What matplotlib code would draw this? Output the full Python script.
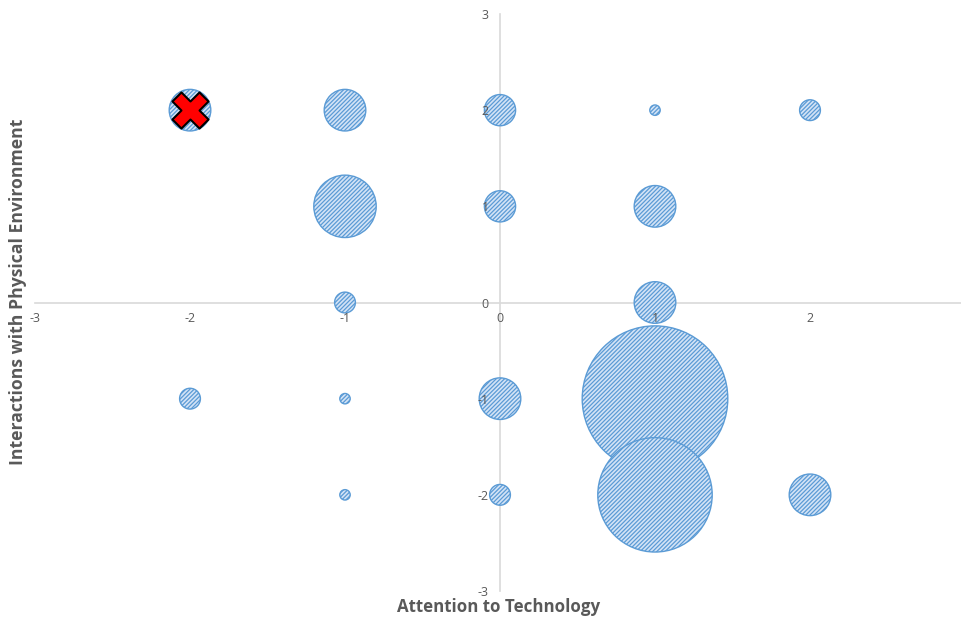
import numpy as np
import matplotlib
matplotlib.use("Agg")
import matplotlib.pyplot as plt

# response counts per (technology, environment) cell
attention = [-2, -1, 0, 1, 2, -1, 0, 1, -1, 1, -2, -1, 0, 1, -1, 0, 1, 2]
interaction = [2, 2, 2, 2, 2, 1, 1, 1, 0, 0, -1, -1, -1, -1, -2, -2, -2, -2]
counts = [4, 4, 3, 1, 2, 6, 3, 4, 2, 4, 2, 1, 4, 14, 1, 2, 11, 4]

# flagged cell
flag_x = [-2]
flag_y = [2]

x_ticks = [-3, -2, -1, 0, 1, 2]
y_ticks = [-3, -2, -1, 0, 1, 2, 3]

plt.rcParams['font.family'] = ['Open Sans', 'DejaVu Sans']
plt.rcParams['axes.unicode_minus'] = False
plt.rcParams['hatch.linewidth'] = 0.9

dpi = 100
fig = plt.figure(figsize=(9.61, 6.19), dpi=dpi)
ax = fig.add_axes([35 / 961, 28 / 619, 930 / 961, 577 / 619])

# bubble width proportional to count (5.2 px of radius per response)
radius_px = 5.2 * np.array(counts)
sizes = (2 * radius_px * 72 / dpi) ** 2

ax.scatter(attention, interaction, s=sizes, facecolor='#d3e3f6',
           edgecolor='#5b9bd5', hatch='////////', linewidth=1.0, zorder=3)
ax.scatter(flag_x, flag_y, s=26 ** 2, marker='X', facecolor='#ff0000',
           edgecolor='black', linewidth=1.5, zorder=4)

ax.set_xlim(-3, 3)
ax.set_ylim(-3, 3)
ax.set_xticks(x_ticks)
ax.set_yticks(y_ticks)

for side in ['top', 'right']:
    ax.spines[side].set_visible(False)
for side in ['left', 'bottom']:
    ax.spines[side].set_position('zero')
    ax.spines[side].set_color('#d9d9d9')
    ax.spines[side].set_linewidth(1.2)
    ax.spines[side].set_zorder(2)

ax.tick_params(axis='x', length=0, pad=7, labelsize=9, labelcolor='#595959')
ax.tick_params(axis='y', length=0, pad=8, labelsize=9, labelcolor='#595959')
ax.xaxis.set_zorder(5)
ax.yaxis.set_zorder(5)

fig.text(499 / 961, 12 / 619, 'Attention to Technology', ha='center',
         va='center', fontsize=12.2, fontweight='bold', color='#595959')
fig.text(18 / 961, 1 - 292 / 619, 'Interactions with Physical Environment',
         ha='center', va='center', rotation=90, fontsize=12.7,
         fontweight='bold', color='#595959')

fig.savefig('out.png', dpi=dpi)
